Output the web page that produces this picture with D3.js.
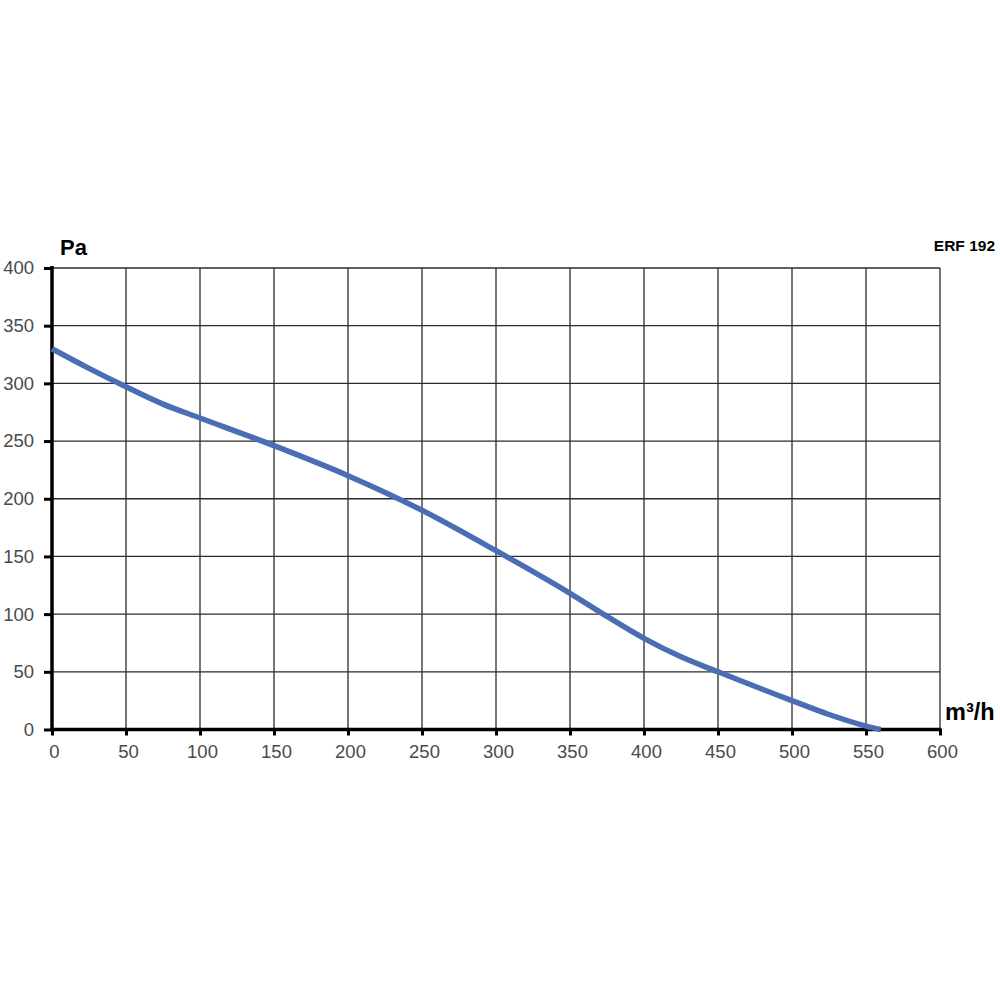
<!DOCTYPE html>
<html><head><meta charset="utf-8">
<script src="https://cdn.jsdelivr.net/npm/d3@7"></script>
<style>body{margin:0;background:#fff}svg{display:block}</style>
</head><body>
<svg id="c" width="1000" height="1000"></svg>
<script>
const flowValues = [0,25,50,75,100,150,200,250,300,350,375,400,425,450,500,525,550,560];
const pressureValues = [330,313,297,282,270,246,220,190,155,118,98,79,63,50,25,13,3,0];
const xTicks = [0,50,100,150,200,250,300,350,400,450,500,550,600];
const yTicks = [0,50,100,150,200,250,300,350,400];
const yUnit = "Pa", xUnit = "m³/h", modelName = "ERF 192";

const svg = d3.select("#c");
const x = d3.scaleLinear().domain([0,600]).range([52,940]);
const y = d3.scaleLinear().domain([0,400]).range([729.5,268]);
const font = "'Liberation Sans', Arial, sans-serif";

// grid
svg.append("g").selectAll("line.v").data(xTicks.filter(d=>d>0)).join("line")
  .attr("x1",d=>x(d)).attr("x2",d=>x(d)).attr("y1",y(400)).attr("y2",y(0))
  .attr("stroke","#2b2b2b").attr("stroke-width",1.3);
svg.append("g").selectAll("line.h").data(yTicks.filter(d=>d>0)).join("line")
  .attr("x1",x(0)).attr("x2",x(600)).attr("y1",d=>y(d)).attr("y2",d=>y(d))
  .attr("stroke","#2b2b2b").attr("stroke-width",1.3);

// axes
const xa = svg.append("g").attr("transform",`translate(0,${y(0)})`)
  .call(d3.axisBottom(x).tickValues(xTicks).tickSize(6).tickPadding(9).tickFormat(d3.format("d")));
const ya = svg.append("g").attr("transform",`translate(${x(0)},0)`)
  .call(d3.axisLeft(y).tickValues(yTicks).tickSize(8).tickPadding(10).tickFormat(d3.format("d")));
[xa,ya].forEach(a=>{
  a.select(".domain").remove();
  a.selectAll(".tick line").attr("stroke","#000").attr("stroke-width",3);
  a.selectAll(".tick text").attr("font-family",font).attr("font-size",18.5).attr("fill","#4a4a4a");
});
xa.selectAll(".tick text").attr("dx",2);
xa.selectAll(".tick line").attr("y1",-1);
svg.append("line").attr("x1",x(0)).attr("x2",x(0)).attr("y1",y(400)-2).attr("y2",y(0)+1.5)
  .attr("stroke","#000").attr("stroke-width",3.5);
svg.append("line").attr("x1",x(0)-1.5).attr("x2",x(600)+1).attr("y1",y(0)).attr("y2",y(0))
  .attr("stroke","#000").attr("stroke-width",3.5);

// curve
const pts = flowValues.map((v,i)=>[v,pressureValues[i]]);
svg.append("path").datum(pts)
  .attr("d",d3.line().x(d=>x(d[0])).y(d=>y(d[1])).curve(d3.curveMonotoneX))
  .attr("fill","none").attr("stroke","#4a6db3").attr("stroke-width",5.5).attr("stroke-linecap","butt");

// labels
svg.append("text").attr("x",60).attr("y",255).text(yUnit)
  .attr("font-family",font).attr("font-weight","bold").attr("font-size",22).attr("fill","#000");
svg.append("text").attr("x",945).attr("y",720).text(xUnit)
  .attr("font-family",font).attr("font-weight","bold").attr("font-size",23.5).attr("fill","#000");
svg.append("text").attr("x",995).attr("y",251).attr("text-anchor","end").text(modelName)
  .attr("font-family",font).attr("font-weight","bold").attr("font-size",15.5).attr("fill","#000");
</script>
</body></html>
